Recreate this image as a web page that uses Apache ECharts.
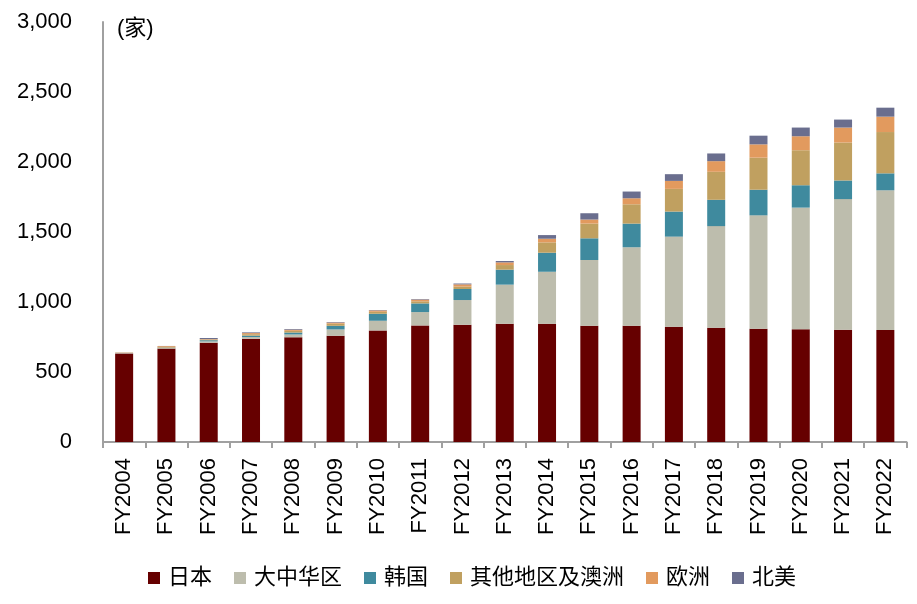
<!DOCTYPE html>
<html>
<head>
<meta charset="utf-8">
<script src="https://cdn.jsdelivr.net/npm/echarts@6/dist/echarts.min.js"></script>
<style>
html,body{margin:0;padding:0;background:#fff;}
#c{width:917px;height:604px;}
</style>
</head>
<body>
<div id="c"></div>
<script>
const categories = ['FY2004','FY2005','FY2006','FY2007','FY2008','FY2009','FY2010','FY2011','FY2012','FY2013','FY2014','FY2015','FY2016','FY2017','FY2018','FY2019','FY2020','FY2021','FY2022'];
const japan   = [633, 667, 709, 738, 748, 759, 797, 833, 838, 845, 845, 831, 831, 824, 816, 809, 805, 802, 800];
const china   = [3, 5, 10, 12, 20, 45, 69, 95, 176, 279, 371, 469, 560, 643, 726, 810, 869, 933, 998];
const korea   = [1, 2, 8, 10, 14, 26, 50, 62, 79, 107, 136, 155, 169, 179, 188, 183, 160, 133, 121];
const others  = [1, 5, 5, 10, 12, 15, 14, 15, 17, 33, 74, 105, 138, 162, 200, 229, 250, 271, 295];
const europe  = [2, 6, 3, 8, 8, 8, 10, 12, 16, 19, 26, 29, 43, 57, 76, 95, 100, 107, 110];
const namerica= [0, 1, 8, 5, 5, 4, 3, 4, 6, 10, 26, 45, 48, 48, 55, 62, 62, 57, 64];
const seriesNames = ['日本','大中华区','韩国','其他地区及澳洲','欧洲','北美'];
const colors = ['#660000','#BDBDAD','#3F8A9E','#C0A060','#E29A5E','#6A6E8E'];
const yTicks = [0, 500, 1000, 1500, 2000, 2500, 3000];
const unitLabel = '(家)';

const font = '"Liberation Sans", Arial, "Noto Sans CJK SC", sans-serif';
const dataList = [japan, china, korea, others, europe, namerica];
const chart = echarts.init(document.getElementById('c'));
chart.setOption({
  animation: false,
  textStyle: {fontFamily: font},
  grid: {left: 103, right: 10.5, top: 22, bottom: 162, containLabel: false},
  graphic: [{type: 'text', left: 117, top: 18, style: {text: unitLabel, fontSize: 22, fill: '#000', fontFamily: font}}],
  legend: {
    bottom: 10, left: 143, itemWidth: 12, itemHeight: 12, itemGap: 22,
    icon: 'rect',
    textStyle: {fontSize: 22, color: '#000', fontFamily: font, padding: [0,0,0,3]},
    data: seriesNames
  },
  xAxis: {
    type: 'category', data: categories,
    axisLine: {lineStyle: {color: '#A0A0A0', width: 2}},
    axisTick: {show: true, length: 6, lineStyle: {color: '#A0A0A0', width: 2}},
    axisLabel: {rotate: 90, fontSize: 22, color: '#000', margin: 16, fontFamily: font}
  },
  yAxis: {
    type: 'value', min: yTicks[0], max: yTicks[yTicks.length-1], interval: 500,
    axisLine: {show: true, lineStyle: {color: '#A0A0A0', width: 2}},
    axisTick: {show: false},
    splitLine: {show: false},
    axisLabel: {fontSize: 22, color: '#000', margin: 31, fontFamily: font,
      formatter: v => v.toLocaleString('en-US')}
  },
  series: seriesNames.map((n, i) => ({
    name: n, type: 'bar', stack: 'total', barWidth: 18,
    itemStyle: {color: colors[i]},
    data: dataList[i]
  }))
});
</script>
</body>
</html>
